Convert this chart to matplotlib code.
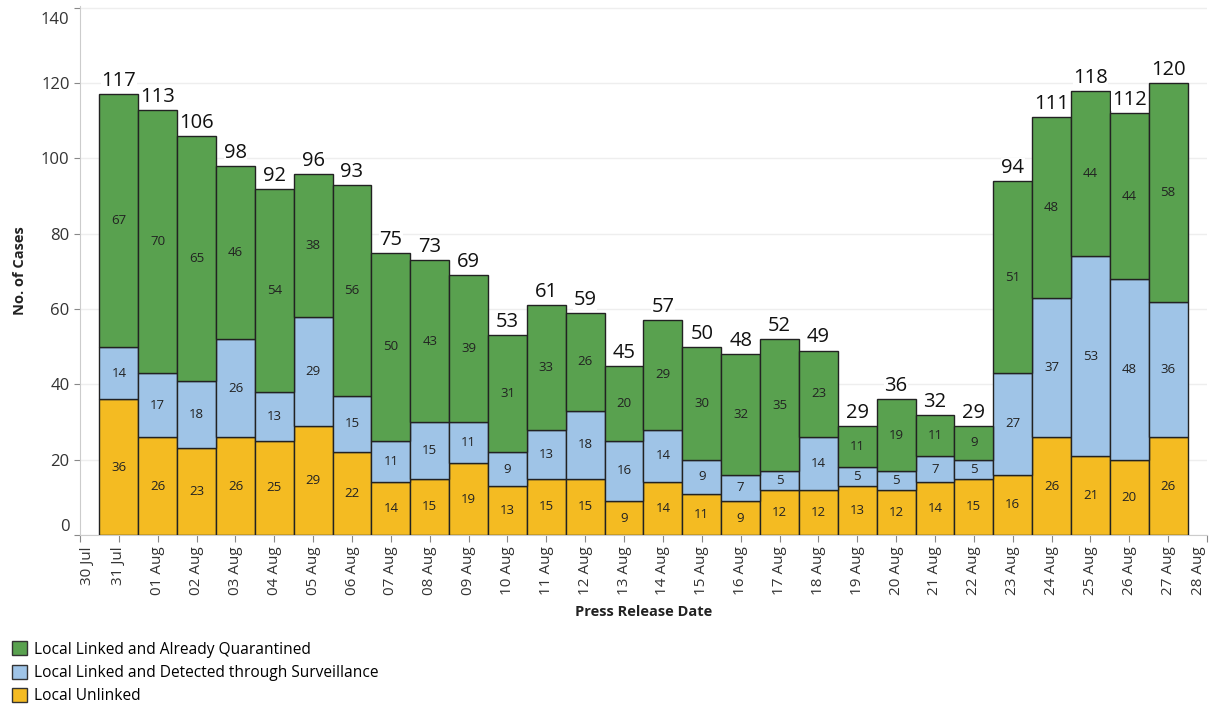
import matplotlib
matplotlib.use("Agg")
import matplotlib.pyplot as plt
from matplotlib.patches import Patch
from matplotlib.transforms import ScaledTranslation

plt.rcParams['font.family'] = ['Open Sans', 'DejaVu Sans']

dates = ["31 Jul", "01 Aug", "02 Aug", "03 Aug", "04 Aug", "05 Aug", "06 Aug", "07 Aug",
         "08 Aug", "09 Aug", "10 Aug", "11 Aug", "12 Aug", "13 Aug", "14 Aug", "15 Aug",
         "16 Aug", "17 Aug", "18 Aug", "19 Aug", "20 Aug", "21 Aug", "22 Aug", "23 Aug",
         "24 Aug", "25 Aug", "26 Aug", "27 Aug"]
tick_labels = ["30 Jul"] + dates + ["28 Aug"]

unlinked = [36, 26, 23, 26, 25, 29, 22, 14, 15, 19, 13, 15, 15, 9, 14, 11, 9, 12, 12, 13,
            12, 14, 15, 16, 26, 21, 20, 26]
surveillance = [14, 17, 18, 26, 13, 29, 15, 11, 15, 11, 9, 13, 18, 16, 14, 9, 7, 5, 14, 5,
                5, 7, 5, 27, 37, 53, 48, 36]
quarantined = [67, 70, 65, 46, 54, 38, 56, 50, 43, 39, 31, 33, 26, 20, 29, 30, 32, 35, 23, 11,
               19, 11, 9, 51, 48, 44, 44, 58]

c_green = "#59a14f"
c_blue = "#9fc4e7"
c_yellow = "#f4bb22"

fig = plt.figure(figsize=(12.1, 7.06), dpi=100)
ax = fig.add_axes([80/1210, 171/706, 1127/1210, 529/706])

x = list(range(len(dates)))
base2 = unlinked
base3 = [a + b for a, b in zip(unlinked, surveillance)]
totals = [a + b for a, b in zip(base3, quarantined)]

kw = dict(width=1.0, edgecolor="#222222", linewidth=1.0, zorder=3)
ax.bar(x, unlinked, color=c_yellow, **kw)
ax.bar(x, surveillance, bottom=base2, color=c_blue, **kw)
ax.bar(x, quarantined, bottom=base3, color=c_green, **kw)

for i in x:
    ax.text(i, unlinked[i] / 2, str(unlinked[i]), ha="center", va="center",
            fontsize=9.5, color="#222222", zorder=4)
    ax.text(i, base2[i] + surveillance[i] / 2, str(surveillance[i]), ha="center", va="center",
            fontsize=9.5, color="#222222", zorder=4)
    ax.text(i, base3[i] + quarantined[i] / 2, str(quarantined[i]), ha="center", va="center",
            fontsize=9.5, color="#222222", zorder=4)
    ax.text(i, totals[i] + 0.8, str(totals[i]), ha="center", va="bottom",
            fontsize=14.5, color="#111111", zorder=5,
            bbox=dict(facecolor="white", edgecolor="none", pad=0.3))

ax.set_xlim(-1, 28)
ax.set_ylim(0, 140.5)
ax.set_xticks(list(range(-1, 29)))
ax.set_xticklabels(tick_labels, rotation=90, fontsize=11, color="#333333")
ax.set_yticks([0, 20, 40, 60, 80, 100, 120, 140])
ax.set_yticklabels(["0", "20", "40", "60", "80", "100", "120", "140"], fontsize=12, color="#333333")
ax.tick_params(axis="x", length=5, color="#888888", pad=3)
ax.tick_params(axis="y", length=4, color="#888888")
ax.grid(axis="y", color="#eeeeee", linewidth=1, zorder=0)
for s in ["top", "right"]:
    ax.spines[s].set_visible(False)
ax.spines["left"].set_color("#cccccc")
ax.spines["bottom"].set_color("#cccccc")

# keep edge labels inside the plot like the reference
xl = ax.get_xticklabels()
xl[0].set_transform(xl[0].get_transform() + ScaledTranslation(7/100, 0, fig.dpi_scale_trans))
xl[-1].set_transform(xl[-1].get_transform() + ScaledTranslation(-8/100, 0, fig.dpi_scale_trans))
yl = ax.get_yticklabels()
yl[0].set_transform(yl[0].get_transform() + ScaledTranslation(0, 10/100, fig.dpi_scale_trans))
yl[-1].set_transform(yl[-1].get_transform() + ScaledTranslation(0, -10/100, fig.dpi_scale_trans))

ax.set_ylabel("No. of Cases", fontsize=10.5, fontweight="bold", color="#222222", labelpad=10)
ax.set_xlabel("Press Release Date", fontsize=10.5, fontweight="bold", color="#222222", labelpad=7)

handles = [Patch(facecolor=c_green, edgecolor="#333333", label="Local Linked and Already Quarantined"),
           Patch(facecolor=c_blue, edgecolor="#333333", label="Local Linked and Detected through Surveillance"),
           Patch(facecolor=c_yellow, edgecolor="#333333", label="Local Unlinked")]
fig.legend(handles=handles, loc="lower left", bbox_to_anchor=(0.006, -0.004), frameon=False,
           fontsize=11.2, handlelength=1.0, handleheight=1.0, handletextpad=0.45,
           labelspacing=0.45, borderaxespad=0.0, borderpad=0.3)

fig.savefig("out.png", dpi=100)
